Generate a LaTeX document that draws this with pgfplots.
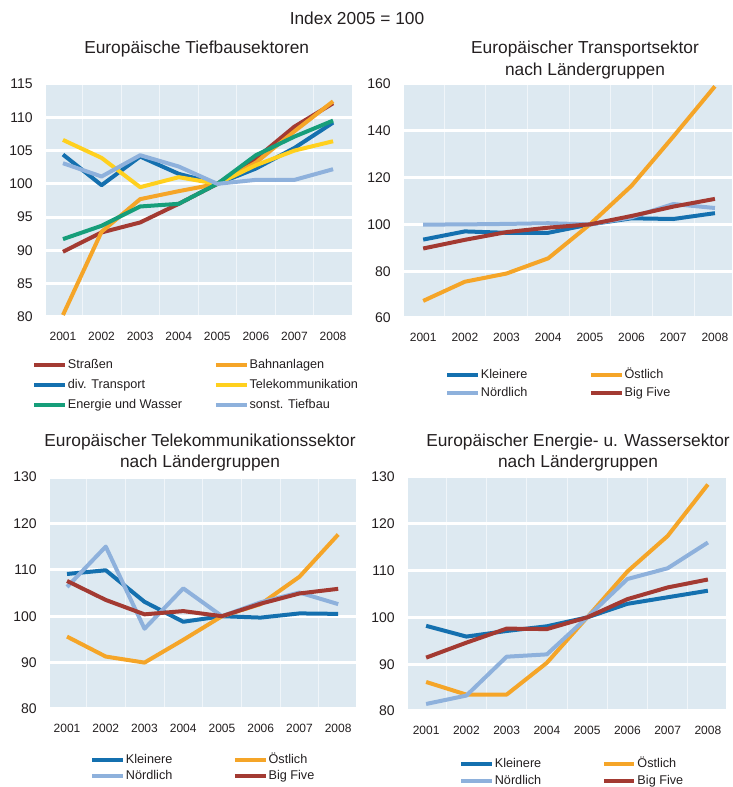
\documentclass[border=0pt]{standalone}
\usepackage{pgfplots}
\usepackage{pgfplotstable}
\pgfplotsset{compat=1.18}
\usepackage{fontspec}
\setmainfont{Liberation Sans}
\definecolor{cRed}{RGB}{163,58,50}
\definecolor{cOrange}{RGB}{245,165,40}
\definecolor{cBlue}{RGB}{20,112,175}
\definecolor{cYellow}{RGB}{255,208,30}
\definecolor{cGreen}{RGB}{22,158,122}
\definecolor{cLight}{RGB}{142,177,220}
\definecolor{cBg}{RGB}{221,233,241}
\definecolor{cText}{RGB}{35,31,32}

\pgfplotstableread{
year str bahn trans tele energ sonst
2001 89.8 80.3 104.4 106.6 91.7 103.1
2002 92.7 92.8 99.8 103.9 93.7 101.1
2003 94.2 97.7 104.1 99.5 96.6 104.3
2004 97.0 98.9 101.5 101.0 97.0 102.6
2005 100 100 100 100 100 100
2006 103.8 103.2 102.3 102.8 104.3 100.6
2007 108.6 107.9 105.4 105.0 107.1 100.6
2008 112.1 112.4 109.2 106.4 109.5 102.2
}\tiefbau

\pgfplotstableread{
year klein ost nord big
2001 93.5 67.3 99.9 89.7
2002 97.0 75.5 100.0 93.4
2003 96.4 79.0 100.2 96.7
2004 96.4 85.5 100.5 98.6
2005 100 100 100 100
2006 102.6 116.5 103.0 103.6
2007 102.3 137.5 108.7 107.6
2008 104.8 159.0 107.0 110.9
}\transport

\pgfplotstableread{
year klein ost nord big
2001 109.1 95.6 106.3 107.6
2002 109.9 91.3 115.0 103.5
2003 103.1 90.0 97.3 100.4
2004 98.8 94.9 106.0 101.1
2005 100.0 100 100 100
2006 99.7 102.6 103.0 102.7
2007 100.6 108.5 105.1 104.9
2008 100.5 117.6 102.6 105.9
}\telekom

\pgfplotstableread{
year klein ost nord big
2001 98.2 86.2 81.5 91.4
2002 95.9 83.5 83.3 94.6
2003 97.1 83.5 91.6 97.6
2004 98.1 90.3 92.1 97.5
2005 100 100 100 100
2006 102.9 109.8 108.2 103.9
2007 104.3 117.4 110.5 106.4
2008 105.7 128.4 116.0 108.1
}\energie

\pgfplotsset{
  panel/.style={
    scale only axis,
    axis background/.style={fill=cBg},
    axis line style={draw=none},
    major tick length=0pt, minor tick length=0pt,
    ymajorgrids, major grid style={white, line width=2.25pt},
    xtick={2001,...,2008},
    minor xtick={2001.5,2002.5,...,2007.5},
    xminorgrids, minor grid style={white!55!cBg, line width=0.5pt},
    /pgf/number format/1000 sep={},
    /pgf/number format/assume math mode=true,
    xticklabel style={font=\fontsize{9}{10}\selectfont, text=cText, inner sep=0pt, anchor=north},
    yticklabel style={font=\fontsize{10.5}{12}\selectfont, text=cText, inner sep=0pt, anchor=east},
    xticklabel shift=11pt,
    yticklabel shift=9.75pt,
    every axis plot/.append style={line width=3pt, line join=round, mark=none},
    legend image code/.code={\path[draw=none,fill=none] (0pt,-4.6pt) rectangle (23pt,0pt); \draw[#1, line width=3pt] (0pt,0pt) -- (23pt,0pt);},
    legend style={draw=none, fill=none, inner sep=0pt, font=\fontsize{9.5}{11}\selectfont, text=cText, anchor=north west, nodes={inner sep=0.75pt, text height=7pt, text depth=2pt}},
    legend cell align=left,
    legend columns=2,
  }
}

\begin{document}
\begin{tikzpicture}
\path[use as bounding box] (0pt,0pt) rectangle (549pt,590.25pt);

\node[anchor=base, font=\fontsize{13}{15}\selectfont, text=cText] at (267.75pt,571.5pt) {Index 2005 = 100};
\node[anchor=base, font=\fontsize{13}{15}\selectfont, text=cText] at (147.5pt,549.75pt) {Europäische Tiefbausektoren};
\node[anchor=base, font=\fontsize{13}{15}\selectfont, text=cText] at (438.75pt,549.75pt) {Europäischer Transportsektor};
\node[anchor=base, font=\fontsize{13}{15}\selectfont, text=cText] at (438.75pt,533.25pt) {nach Ländergruppen};
\node[anchor=base, font=\fontsize{13}{15}\selectfont, text=cText] at (150pt,255pt) {Europäischer Telekommunikationssektor};
\node[anchor=base, font=\fontsize{13}{15}\selectfont, text=cText] at (150pt,239.25pt) {nach Ländergruppen};
\node[anchor=base, font=\fontsize{13}{15}\selectfont, text=cText] at (433.5pt,255pt) {Europäischer Energie- u. Wassersektor};
\node[anchor=base, font=\fontsize{13}{15}\selectfont, text=cText] at (433.5pt,239.25pt) {nach Ländergruppen};

% Panel 1
\begin{axis}[panel, at={(34.5pt,352.5pt)}, anchor=south west,
  width=229.5pt, height=174.75pt,
  xmin=2000.56, xmax=2008.49, ymin=80, ymax=115, ytick={80,85,...,115},
  legend style={at={(-0.0458,-0.176)}, /tikz/row sep=4.5pt}]
\addplot[cRed] table[x=year,y=str]{\tiefbau};
\addlegendentry{\makebox[108.75pt][l]{Straßen}}
\addplot[cOrange] table[x=year,y=bahn]{\tiefbau};
\addlegendentry{Bahnanlagen}
\addplot[cBlue] table[x=year,y=trans]{\tiefbau};
\addlegendentry{\makebox[108.75pt][l]{div. Transport}}
\addplot[cYellow] table[x=year,y=tele]{\tiefbau};
\addlegendentry{Telekommunikation}
\addplot[cGreen] table[x=year,y=energ]{\tiefbau};
\addlegendentry{\makebox[108.75pt][l]{Energie und Wasser}}
\addplot[cLight] table[x=year,y=sonst]{\tiefbau};
\addlegendentry{sonst. Tiefbau}
\end{axis}

% Panel 2
\begin{axis}[panel, at={(303pt,351.75pt)}, anchor=south west,
  width=246pt, height=175.5pt,
  xmin=2000.54, xmax=2008.41, ymin=60, ymax=160, ytick={60,80,...,160},
  legend style={at={(0.125,-0.2137)}, /tikz/row sep=3pt}]
\addplot[cBlue] table[x=year,y=klein]{\transport};
\addlegendentry{\makebox[80.25pt][l]{Kleinere}}
\addplot[cOrange] table[x=year,y=ost]{\transport};
\addlegendentry{Östlich}
\addplot[cLight] table[x=year,y=nord]{\transport};
\addlegendentry{\makebox[80.25pt][l]{Nördlich}}
\addplot[cRed] table[x=year,y=big]{\transport};
\addlegendentry{Big Five}
\end{axis}

% Panel 3
\begin{axis}[panel, at={(37.5pt,58.5pt)}, anchor=south west,
  width=229.5pt, height=174pt,
  xmin=2000.56, xmax=2008.46, ymin=80, ymax=130, ytick={80,90,...,130},
  legend style={at={(0.1307,-0.19)}, /tikz/row sep=1.5pt}]
\addplot[cBlue] table[x=year,y=klein]{\telekom};
\addlegendentry{\makebox[79.5pt][l]{Kleinere}}
\addplot[cOrange] table[x=year,y=ost]{\telekom};
\addlegendentry{Östlich}
\addplot[cLight] table[x=year,y=nord]{\telekom};
\addlegendentry{\makebox[79.5pt][l]{Nördlich}}
\addplot[cRed] table[x=year,y=big]{\telekom};
\addlegendentry{Big Five}
\end{axis}

% Panel 4
\begin{axis}[panel, at={(306pt,57pt)}, anchor=south west,
  width=238.5pt, height=175.5pt,
  xmin=2000.55, xmax=2008.45, ymin=80, ymax=130, ytick={80,90,...,130},
  legend style={at={(0.160,-0.1966)}, /tikz/row sep=2.25pt}]
\addplot[cBlue] table[x=year,y=klein]{\energie};
\addlegendentry{\makebox[79.5pt][l]{Kleinere}}
\addplot[cOrange] table[x=year,y=ost]{\energie};
\addlegendentry{Östlich}
\addplot[cLight] table[x=year,y=nord]{\energie};
\addlegendentry{\makebox[79.5pt][l]{Nördlich}}
\addplot[cRed] table[x=year,y=big]{\energie};
\addlegendentry{Big Five}
\end{axis}
\end{tikzpicture}
\end{document}
